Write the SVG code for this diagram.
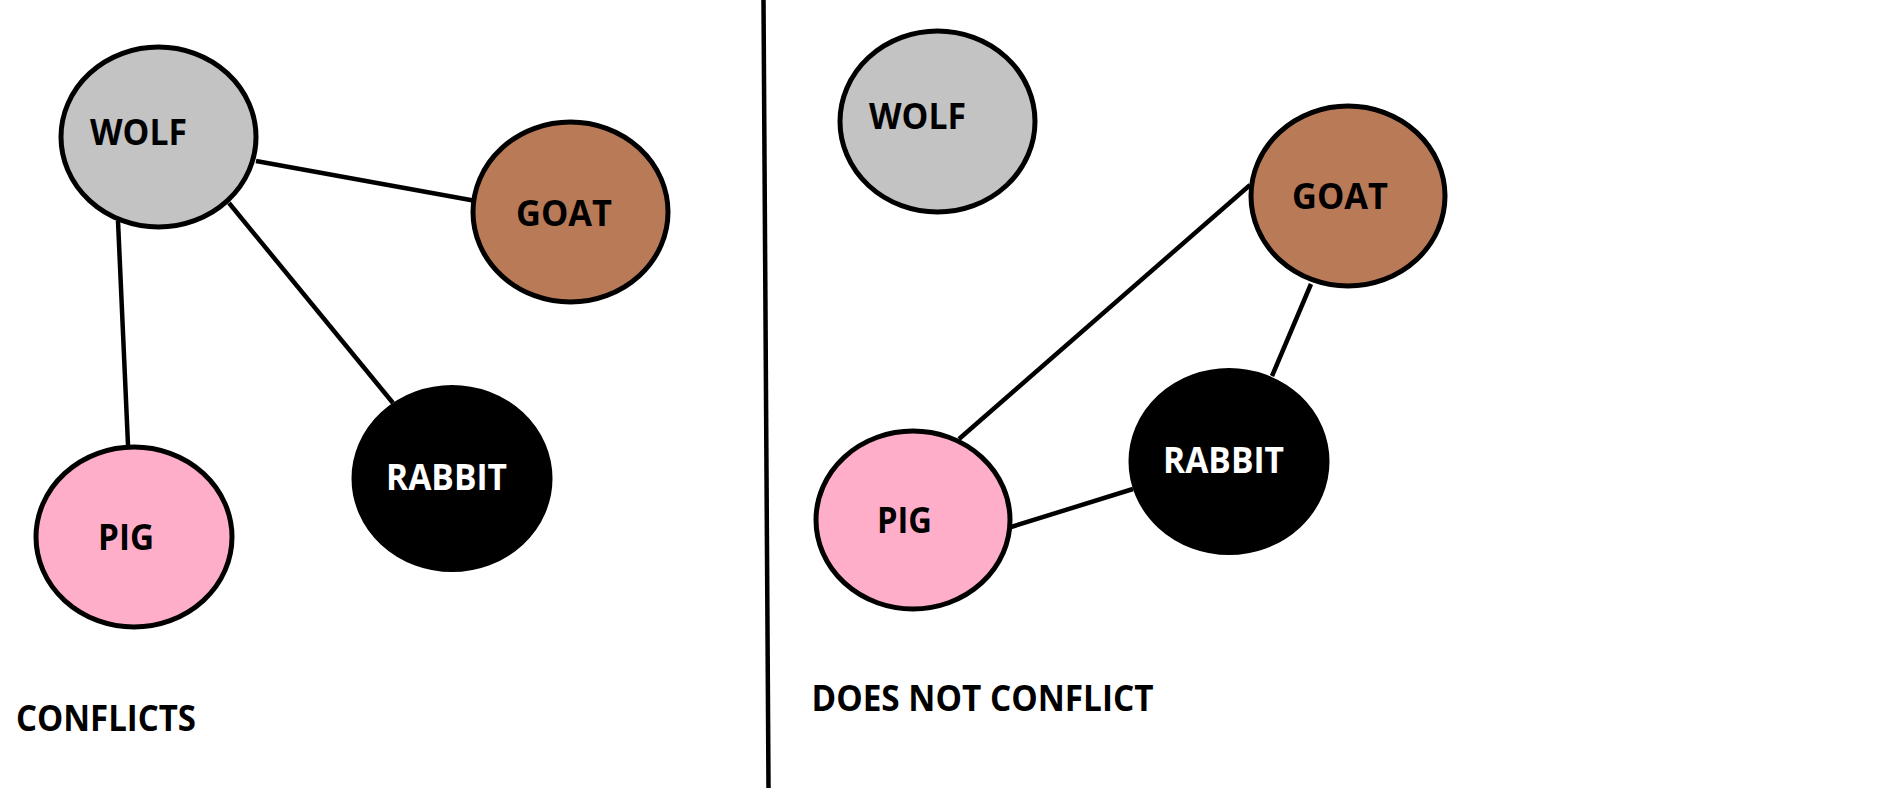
<svg xmlns="http://www.w3.org/2000/svg" width="1897" height="788" viewBox="0 0 1897 788">
<style>
.n{stroke:#000;stroke-width:5}
.e{stroke:#000;stroke-width:4.5;fill:none;stroke-linecap:butt}
.t{font-family:"Open Sans","Noto Sans","DejaVu Sans",sans-serif;font-weight:bold;font-size:35px;fill:#000}
.w{fill:#fff}
.wolf{fill:#c3c3c3}.goat{fill:#b97a57}.pig{fill:#ffaec9}.rabbit{fill:#000}
</style>
<rect width="1897" height="788" fill="#fff"/>
<g id="connectors">
<line class="e" x1="256" y1="161" x2="476" y2="201"/>
<line class="e" x1="229" y1="203" x2="393" y2="403"/>
<line class="e" x1="118" y1="221" x2="128" y2="445"/>
<line class="e" x1="1250" y1="185" x2="959" y2="439"/>
<line class="e" x1="1311" y1="284" x2="1272" y2="376"/>
<line class="e" x1="1011" y1="527" x2="1133" y2="489"/>
</g>
<line id="divider" x1="763.5" y1="0" x2="768.5" y2="788" stroke="#000" stroke-width="4.5"/>
<g id="wolf1"><ellipse class="n wolf" cx="158.5" cy="137" rx="97.5" ry="90"/><text class="t" x="90" y="145" textLength="97" lengthAdjust="spacingAndGlyphs">WOLF</text></g>
<g id="goat1"><ellipse class="n goat" cx="570.5" cy="212" rx="97.5" ry="90"/><text class="t" x="516" y="226" textLength="96" lengthAdjust="spacingAndGlyphs">GOAT</text></g>
<g id="rabbit1"><ellipse class="n rabbit" cx="452" cy="478.5" rx="98" ry="91"/><text class="t w" x="386" y="490" textLength="121" lengthAdjust="spacingAndGlyphs">RABBIT</text></g>
<g id="pig1"><ellipse class="n pig" cx="134" cy="537" rx="98" ry="90"/><text class="t" x="98" y="550" textLength="56" lengthAdjust="spacingAndGlyphs">PIG</text></g>
<g id="wolf2"><ellipse class="n wolf" cx="937.5" cy="121.5" rx="97.5" ry="90.5"/><text class="t" x="869" y="129" textLength="97" lengthAdjust="spacingAndGlyphs">WOLF</text></g>
<g id="goat2"><ellipse class="n goat" cx="1348" cy="196" rx="97" ry="90"/><text class="t" x="1292" y="209" textLength="96" lengthAdjust="spacingAndGlyphs">GOAT</text></g>
<g id="rabbit2"><ellipse class="n rabbit" cx="1229" cy="461.5" rx="98" ry="91"/><text class="t w" x="1163" y="473" textLength="121" lengthAdjust="spacingAndGlyphs">RABBIT</text></g>
<g id="pig2"><ellipse class="n pig" cx="913" cy="520" rx="97" ry="89"/><text class="t" x="877" y="533" textLength="55" lengthAdjust="spacingAndGlyphs">PIG</text></g>
<text class="t" x="16" y="731" textLength="180" lengthAdjust="spacingAndGlyphs">CONFLICTS</text>
<text class="t" x="811.5" y="711" textLength="342" lengthAdjust="spacingAndGlyphs">DOES NOT CONFLICT</text>
</svg>
